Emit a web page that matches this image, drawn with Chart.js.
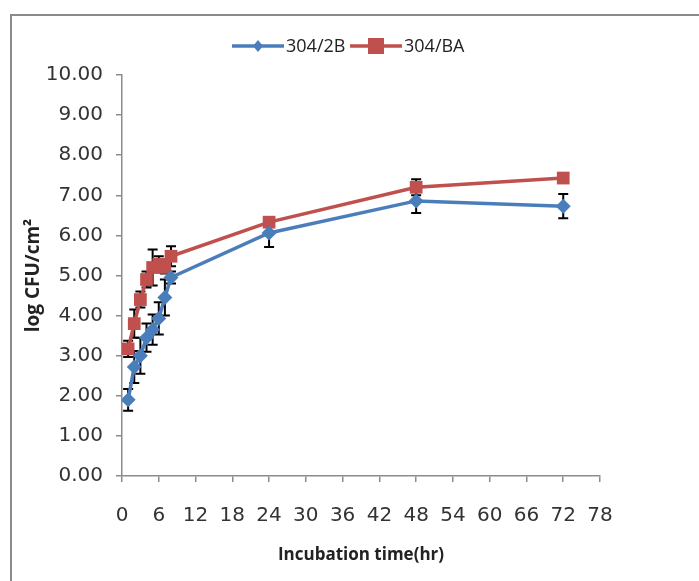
<!DOCTYPE html>
<html><head><meta charset="utf-8">
<script src="https://cdn.jsdelivr.net/npm/chart.js@4"></script>
<style>
html,body{margin:0;padding:0;background:#fff;}
#wrap{position:absolute;left:0;top:0;width:699px;height:581px;}
#frame{position:absolute;left:10px;top:14px;width:700px;height:580px;border:2px solid #8a8a8a;box-sizing:border-box;}
canvas{position:absolute;left:0;top:0;}
</style></head>
<body>
<div id="wrap"><div id="frame"></div><canvas id="c" width="699" height="581"></canvas></div>
<script>
const hours = [1, 2, 3, 4, 5, 6, 7, 8, 24, 48, 72];
const s2B = [1.90, 2.72, 3.00, 3.45, 3.65, 3.93, 4.45, 4.95, 6.06, 6.86, 6.73];
const s2Berr = [0.27, 0.40, 0.45, 0.35, 0.38, 0.40, 0.45, 0.15, 0.35, 0.30, 0.30];
const sBA = [3.17, 3.80, 4.40, 4.90, 5.20, 5.28, 5.20, 5.48, 6.33, 7.20, 7.43];
const sBAerr = [0.20, 0.35, 0.20, 0.20, 0.45, 0.20, 0.15, 0.25, 0.10, 0.20, 0.10];
const seriesNames = ['304/2B', '304/BA'];
const xTicks = [0, 6, 12, 18, 24, 30, 36, 42, 48, 54, 60, 66, 72, 78];
const yTicks = [0, 1, 2, 3, 4, 5, 6, 7, 8, 9, 10];

const BLUE = '#4a7ebb', RED = '#c0504d';
const FONT = "'Open Sans', sans-serif";
const TICKFONT = "'DejaVu Sans', sans-serif";

const errs = [s2Berr, sBAerr];

const errorBars = {
  id: 'errorBars',
  beforeDatasetsDraw(chart) {
    const ctx = chart.ctx, ys = chart.scales.y, xs = chart.scales.x;
    ctx.save();
    ctx.strokeStyle = '#000';
    ctx.lineWidth = 2;
    chart.data.datasets.forEach((ds, di) => {
      ds.data.forEach((p, i) => {
        const e = errs[di][i];
        const x = xs.getPixelForValue(p.x);
        const y1 = ys.getPixelForValue(p.y - e), y2 = ys.getPixelForValue(p.y + e);
        ctx.beginPath();
        ctx.moveTo(x, y1); ctx.lineTo(x, y2);
        ctx.moveTo(x - 5, y1); ctx.lineTo(x + 5, y1);
        ctx.moveTo(x - 5, y2); ctx.lineTo(x + 5, y2);
        ctx.stroke();
      });
    });
    ctx.restore();
  }
};

const legendPlugin = {
  id: 'customLegend',
  afterDraw(chart) {
    const ctx = chart.ctx;
    ctx.save();
    const y = 46;
    const items = [
      {x: 232, color: BLUE, style: 'diamond', text: seriesNames[0]},
      {x: 350, color: RED, style: 'square', text: seriesNames[1]}
    ];
    ctx.font = "18px " + FONT;
    ctx.textBaseline = 'middle';
    items.forEach(it => {
      ctx.strokeStyle = it.color; ctx.lineWidth = 3.5;
      ctx.beginPath(); ctx.moveTo(it.x, y); ctx.lineTo(it.x + 52, y); ctx.stroke();
      ctx.fillStyle = it.color;
      const cx = it.x + 26;
      if (it.style === 'diamond') {
        ctx.beginPath(); ctx.moveTo(cx, y - 6); ctx.lineTo(cx + 5, y); ctx.lineTo(cx, y + 6); ctx.lineTo(cx - 5, y); ctx.closePath(); ctx.fill();
      } else {
        ctx.fillRect(cx - 8, y - 8, 16, 16);
      }
      ctx.fillStyle = '#222';
      ctx.fillText(it.text, it.x + 54, y + 1);
    });
    ctx.restore();
  }
};

new Chart(document.getElementById('c'), {
  type: 'line',
  data: {
    datasets: [
      {label: seriesNames[0], data: hours.map((h, i) => ({x: h, y: s2B[i]})), borderColor: BLUE, backgroundColor: BLUE,
       borderWidth: 3.5, pointStyle: 'rectRot', pointRadius: 7.5, pointBorderWidth: 0, tension: 0},
      {label: seriesNames[1], data: hours.map((h, i) => ({x: h, y: sBA[i]})), borderColor: RED, backgroundColor: RED,
       borderWidth: 3.5, pointStyle: 'rect', pointRadius: 9, pointBorderWidth: 0, tension: 0}
    ]
  },
  options: {
    responsive: false, animation: false,
    layout: {padding: {top: 75, right: 99, left: 0, bottom: 0}},
    plugins: {legend: {display: false}, tooltip: {enabled: false}},
    scales: {
      x: {
        type: 'linear', min: 0, max: 78,
        afterBuildTicks: s => { s.ticks = xTicks.map(v => ({value: v})); },
        afterFit: s => { s.height = 105; },
        border: {color: '#8c8c8c', width: 1.5},
        grid: {drawOnChartArea: false, tickLength: 6, color: '#8c8c8c', lineWidth: 1.5},
        ticks: {font: {family: TICKFONT, size: 20}, color: '#333', padding: 22, maxRotation: 0, autoSkip: false},
        title: {display: true, text: 'Incubation time(hr)', font: {family: FONT, size: 17, weight: 'bold'}, color: '#222', padding: {top: 0, bottom: 16}}
      },
      y: {
        min: 0, max: 10,
        afterBuildTicks: s => { s.ticks = yTicks.map(v => ({value: v})); },
        afterFit: s => { s.width = 122; },
        border: {color: '#8c8c8c', width: 1.5},
        grid: {drawOnChartArea: false, tickLength: 6, color: '#8c8c8c', lineWidth: 1.5},
        ticks: {font: {family: TICKFONT, size: 20}, color: '#333', padding: 13, callback: v => v.toFixed(2)},
        title: {display: true, text: 'log CFU/cm²', font: {family: FONT, size: 19, weight: 'bold'}, color: '#222', padding: {top: 22, bottom: 0}}
      }
    }
  },
  plugins: [errorBars, legendPlugin]
});
</script>
</body></html>
